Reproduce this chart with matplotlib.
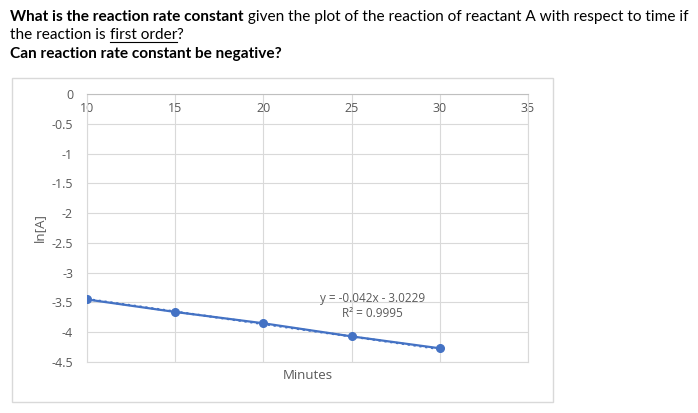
import matplotlib
matplotlib.use("Agg")
import matplotlib.pyplot as plt
from matplotlib.patches import Rectangle
from matplotlib.lines import Line2D

# data
minutes = [10, 15, 20, 25, 30]
ln_a = [-3.45, -3.66, -3.85, -4.07, -4.27]
slope = -0.042
intercept = -3.0229
r_squared = 0.9995

x_ticks = [10, 15, 20, 25, 30, 35]
y_ticks = [0, -0.5, -1, -1.5, -2, -2.5, -3, -3.5, -4, -4.5]
y_tick_labels = ["0", "-0.5", "-1", "-1.5", "-2", "-2.5", "-3", "-3.5", "-4", "-4.5"]

blue = "#4472C4"
grey_text = "#595959"
grid = "#d9d9d9"

W, H = 698, 413
fig = plt.figure(figsize=(W / 100, H / 100), dpi=100)
renderer = fig.canvas.get_renderer()

title_font = "Lato"
title_size = 11.1


def put_runs(runs, x_px, y_px):
    """Draw text pieces one after another on a line (pixel coords from top-left)."""
    x = x_px
    for txt, weight, underline in runs:
        t = fig.text(x / W, 1 - y_px / H, txt, fontsize=title_size, family=title_font,
                     fontweight=weight, color="black", va="baseline", ha="left")
        bb = t.get_window_extent(renderer)
        if underline:
            fig.add_artist(Line2D([bb.x0 / W, bb.x1 / W],
                                  [1 - (y_px + 2.5) / H] * 2,
                                  color="black", linewidth=0.8))
        x = bb.x1


put_runs([("What is the reaction rate constant", "bold", False),
          (" given the plot of the reaction of reactant A with respect to time if", "normal", False)],
         10, 21)
put_runs([("the reaction is ", "normal", False), ("first order", "normal", True),
          ("?", "normal", False)], 10, 39)
put_runs([("Can reaction rate constant be negative?", "bold", False)], 10, 58)

# chart frame
fig.add_artist(Rectangle((12 / W, 1 - 402 / H), (553 - 12) / W, (402 - 78) / H,
                         transform=fig.transFigure, fill=False,
                         edgecolor=grid, linewidth=1))

ax = fig.add_axes([87 / W, 51 / H, 441 / W, 268 / H])
ax.plot(minutes, ln_a, color=blue, linewidth=1.6, marker="o", markersize=5.5, zorder=3)
trend_x = [minutes[0], minutes[-1]]
trend_y = [slope * v + intercept for v in trend_x]
ax.plot(trend_x, trend_y, color=blue, linewidth=1.6, linestyle=":", zorder=2)

ax.set_xlim(10, 35)
ax.set_ylim(-4.5, 0)
ax.set_xticks(x_ticks)
ax.set_yticks(y_ticks)
ax.set_yticklabels(y_tick_labels)
ax.grid(True, color=grid, linewidth=0.8)
ax.set_axisbelow(True)
for s in ax.spines.values():
    s.set_color(grid)
    s.set_linewidth(0.8)
ax.spines["top"].set_color("#bfbfbf")

ax.tick_params(axis="x", top=True, bottom=False, labeltop=True, labelbottom=False,
               length=0, pad=-15, labelsize=9, labelcolor=grey_text)
ax.tick_params(axis="y", length=0, pad=10, labelsize=9, labelcolor=grey_text)
for lab in ax.get_xticklabels() + ax.get_yticklabels():
    lab.set_family("Open Sans")

ax.xaxis.set_label_position("bottom")
ax.set_xlabel("Minutes", fontsize=9.5, color=grey_text, family="Open Sans", labelpad=5)
ax.set_ylabel("ln[A]", fontsize=9.5, color=grey_text, family="Open Sans", labelpad=4)

ax.text(26.2, -3.44, f"y = {slope}x - {abs(intercept)}", ha="center", va="center",
        fontsize=8.5, color=grey_text, family="Open Sans")
ax.text(26.2, -3.69, f"R² = {r_squared}", ha="center", va="center",
        fontsize=8.5, color=grey_text, family="Open Sans")

fig.savefig("out.png", dpi=100, facecolor="white")
